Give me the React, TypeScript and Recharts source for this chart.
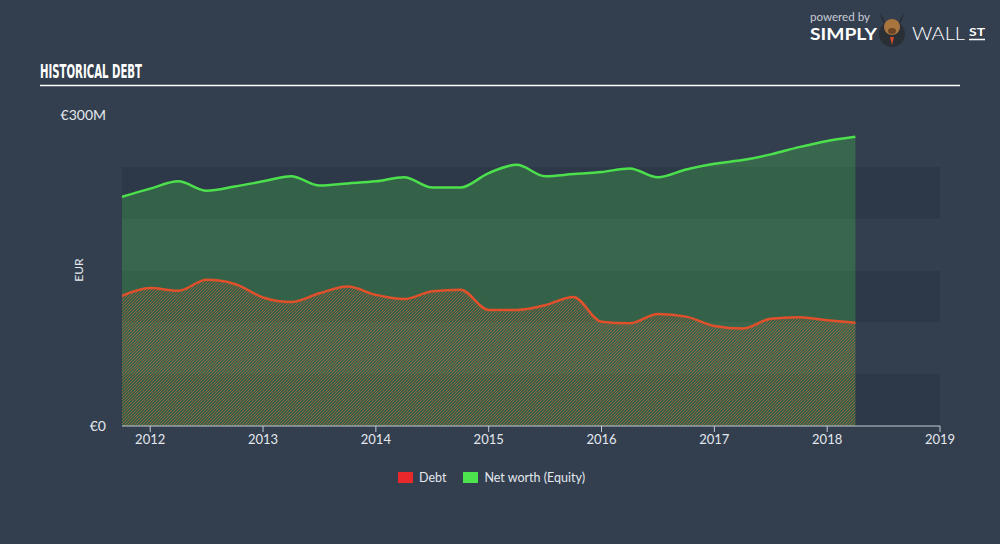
import React from 'react';
import { ComposedChart, Area, XAxis, YAxis, CartesianGrid } from 'recharts';

const quarters = [2011.75, 2012, 2012.25, 2012.5, 2012.75, 2013, 2013.25, 2013.5, 2013.75, 2014, 2014.25, 2014.5, 2014.75, 2015, 2015.25, 2015.5, 2015.75, 2016, 2016.25, 2016.5, 2016.75, 2017, 2017.25, 2017.5, 2017.75, 2018, 2018.25];
const netWorth = [221, 229, 236, 227, 231, 236, 241, 232, 234, 236, 240, 230, 230, 244, 252, 241, 243, 245, 248.5, 240, 247.5, 253, 256.5, 262, 269, 275, 279];
const debt = [125.5, 133, 130.5, 141, 137, 124, 119.6, 128, 134.5, 126.5, 122.5, 130, 131.5, 112, 112, 116.5, 124.5, 100.5, 99, 108, 105.5, 96.5, 94, 103.5, 105, 102, 99.5];
const xTicks = [2012, 2013, 2014, 2015, 2016, 2017, 2018, 2019];
const yTicks = [0, 300];
const bandValues = [0, 50, 100, 150, 200, 250, 300];
const legendItems = [
  { label: 'Debt', color: '#e8282a' },
  { label: 'Net worth (Equity)', color: '#4de34d' },
];

const data = quarters.map((q, i) => ({ q, netWorth: netWorth[i], debt: debt[i] }));

const FONT = 'Lato, "Open Sans", sans-serif';

export default function App() {
  return (
    <div style={{ position: 'absolute', left: 0, top: 0, width: 1000, height: 544, background: '#333f4f', overflow: 'hidden', fontFamily: FONT }}>
      <svg style={{ position: 'absolute', left: 0, top: 0 }} width={1000} height={100}>
        <text x={40} y={78} fontFamily="'DejaVu Sans Condensed', 'DejaVu Sans', sans-serif" fontWeight="bold" fontSize={19} textLength={102} lengthAdjust="spacingAndGlyphs" fill="#ffffff">HISTORICAL DEBT</text>
        <line x1={40} x2={960} y1={85.5} y2={85.5} stroke="#ffffff" strokeWidth={1.3} />
        <text x={810} y={21} fontFamily={FONT} fontSize={11} fill="#c8cdd4" textLength={60} lengthAdjust="spacingAndGlyphs">powered by</text>
        <text x={810} y={40} fontFamily={FONT} fontWeight="bold" fontSize={17} fill="#ffffff" textLength={67} lengthAdjust="spacingAndGlyphs">SIMPLY</text>
        <circle cx={892} cy={34} r={13} fill="#2a2f36" />
        <path d="M880 13 Q881 22 886 24 L884 19 Z" fill="#2a2f36" />
        <path d="M904 13 Q903 22 898 24 L900 19 Z" fill="#2a2f36" />
        <ellipse cx={892} cy={27} rx={8} ry={8} fill="#a8753e" />
        <ellipse cx={892} cy={31} rx={4} ry={3} fill="#6b4424" />
        <path d="M890 37 L894 37 L892 45 Z" fill="#d84a2a" />
        <text x={912} y={40} fontFamily={FONT} fontWeight={300} fontSize={17} fill="#ffffff" textLength={53} lengthAdjust="spacingAndGlyphs">WALL</text>
        <text x={969} y={36} fontFamily={FONT} fontWeight="bold" fontSize={11} fill="#ffffff" textLength={16} lengthAdjust="spacingAndGlyphs">ST</text>
        <line x1={969} x2={985} y1={39.5} y2={39.5} stroke="#ffffff" strokeWidth={1.5} />
      </svg>

      <div style={{ position: 'absolute', left: 0, top: 0 }}>
        <ComposedChart width={1000} height={544} data={data} margin={{ top: 115, right: 60, bottom: 88, left: 0 }}>
          <defs>
            <pattern id="hatch" patternUnits="userSpaceOnUse" width={3} height={3}>
              <path d="M0,3 L3,0 M-1,1 L1,-1 M2,4 L4,2" stroke="#b0603c" strokeWidth={1} strokeOpacity={0.75} />
            </pattern>
          </defs>
          <CartesianGrid
            vertical={false}
            horizontal={true}
            stroke="none"
            horizontalValues={bandValues}
            horizontalFill={['transparent', '#2d3948']}
            fillOpacity={1}
          />
          <XAxis
            dataKey="q"
            type="number"
            domain={[2011.75, 2019]}
            ticks={xTicks}
            allowDataOverflow
            stroke="#c5ccd6"
            tick={{ fill: '#e4e8ee', fontSize: 13, fontFamily: FONT }}
            tickSize={6}
            tickMargin={3}
            tickFormatter={(v: number) => String(v)}
          />
          <YAxis
            type="number"
            domain={[0, 300]}
            ticks={yTicks}
            width={122}
            axisLine={false}
            tickLine={false}
            tickSize={0}
            tickMargin={16}
            tick={{ fill: '#e4e8ee', fontSize: 14, fontFamily: FONT }}
            tickFormatter={(v: number) => (v === 0 ? '€0' : `€${v}M`)}
          />
          <Area
            type="monotone"
            dataKey="netWorth"
            stroke="#4ce04c"
            strokeWidth={2.5}
            fill="#4ce04c"
            fillOpacity={0.25}
            isAnimationActive={false}
            dot={false}
            activeDot={false}
          />
          <Area
            type="monotone"
            dataKey="debt"
            stroke="#e0502a"
            strokeWidth={2.5}
            fill="url(#hatch)"
            fillOpacity={1}
            isAnimationActive={false}
            dot={false}
            activeDot={false}
          />
        </ComposedChart>
      </div>

      <div style={{ position: 'absolute', left: 78, top: 270, transform: 'translate(-50%, -50%) rotate(-90deg)', color: '#e4e8ee', fontSize: 12 }}>EUR</div>

      <div style={{ position: 'absolute', top: 470, left: 398, display: 'flex', alignItems: 'center', gap: 17, color: '#e4e8ee', fontSize: 12.5 }}>
        {legendItems.map((it) => (
          <div key={it.label} style={{ display: 'flex', alignItems: 'center' }}>
            <span style={{ display: 'inline-block', width: 15, height: 11, background: it.color, marginRight: 6 }} />
            <span>{it.label}</span>
          </div>
        ))}
      </div>
    </div>
  );
}
